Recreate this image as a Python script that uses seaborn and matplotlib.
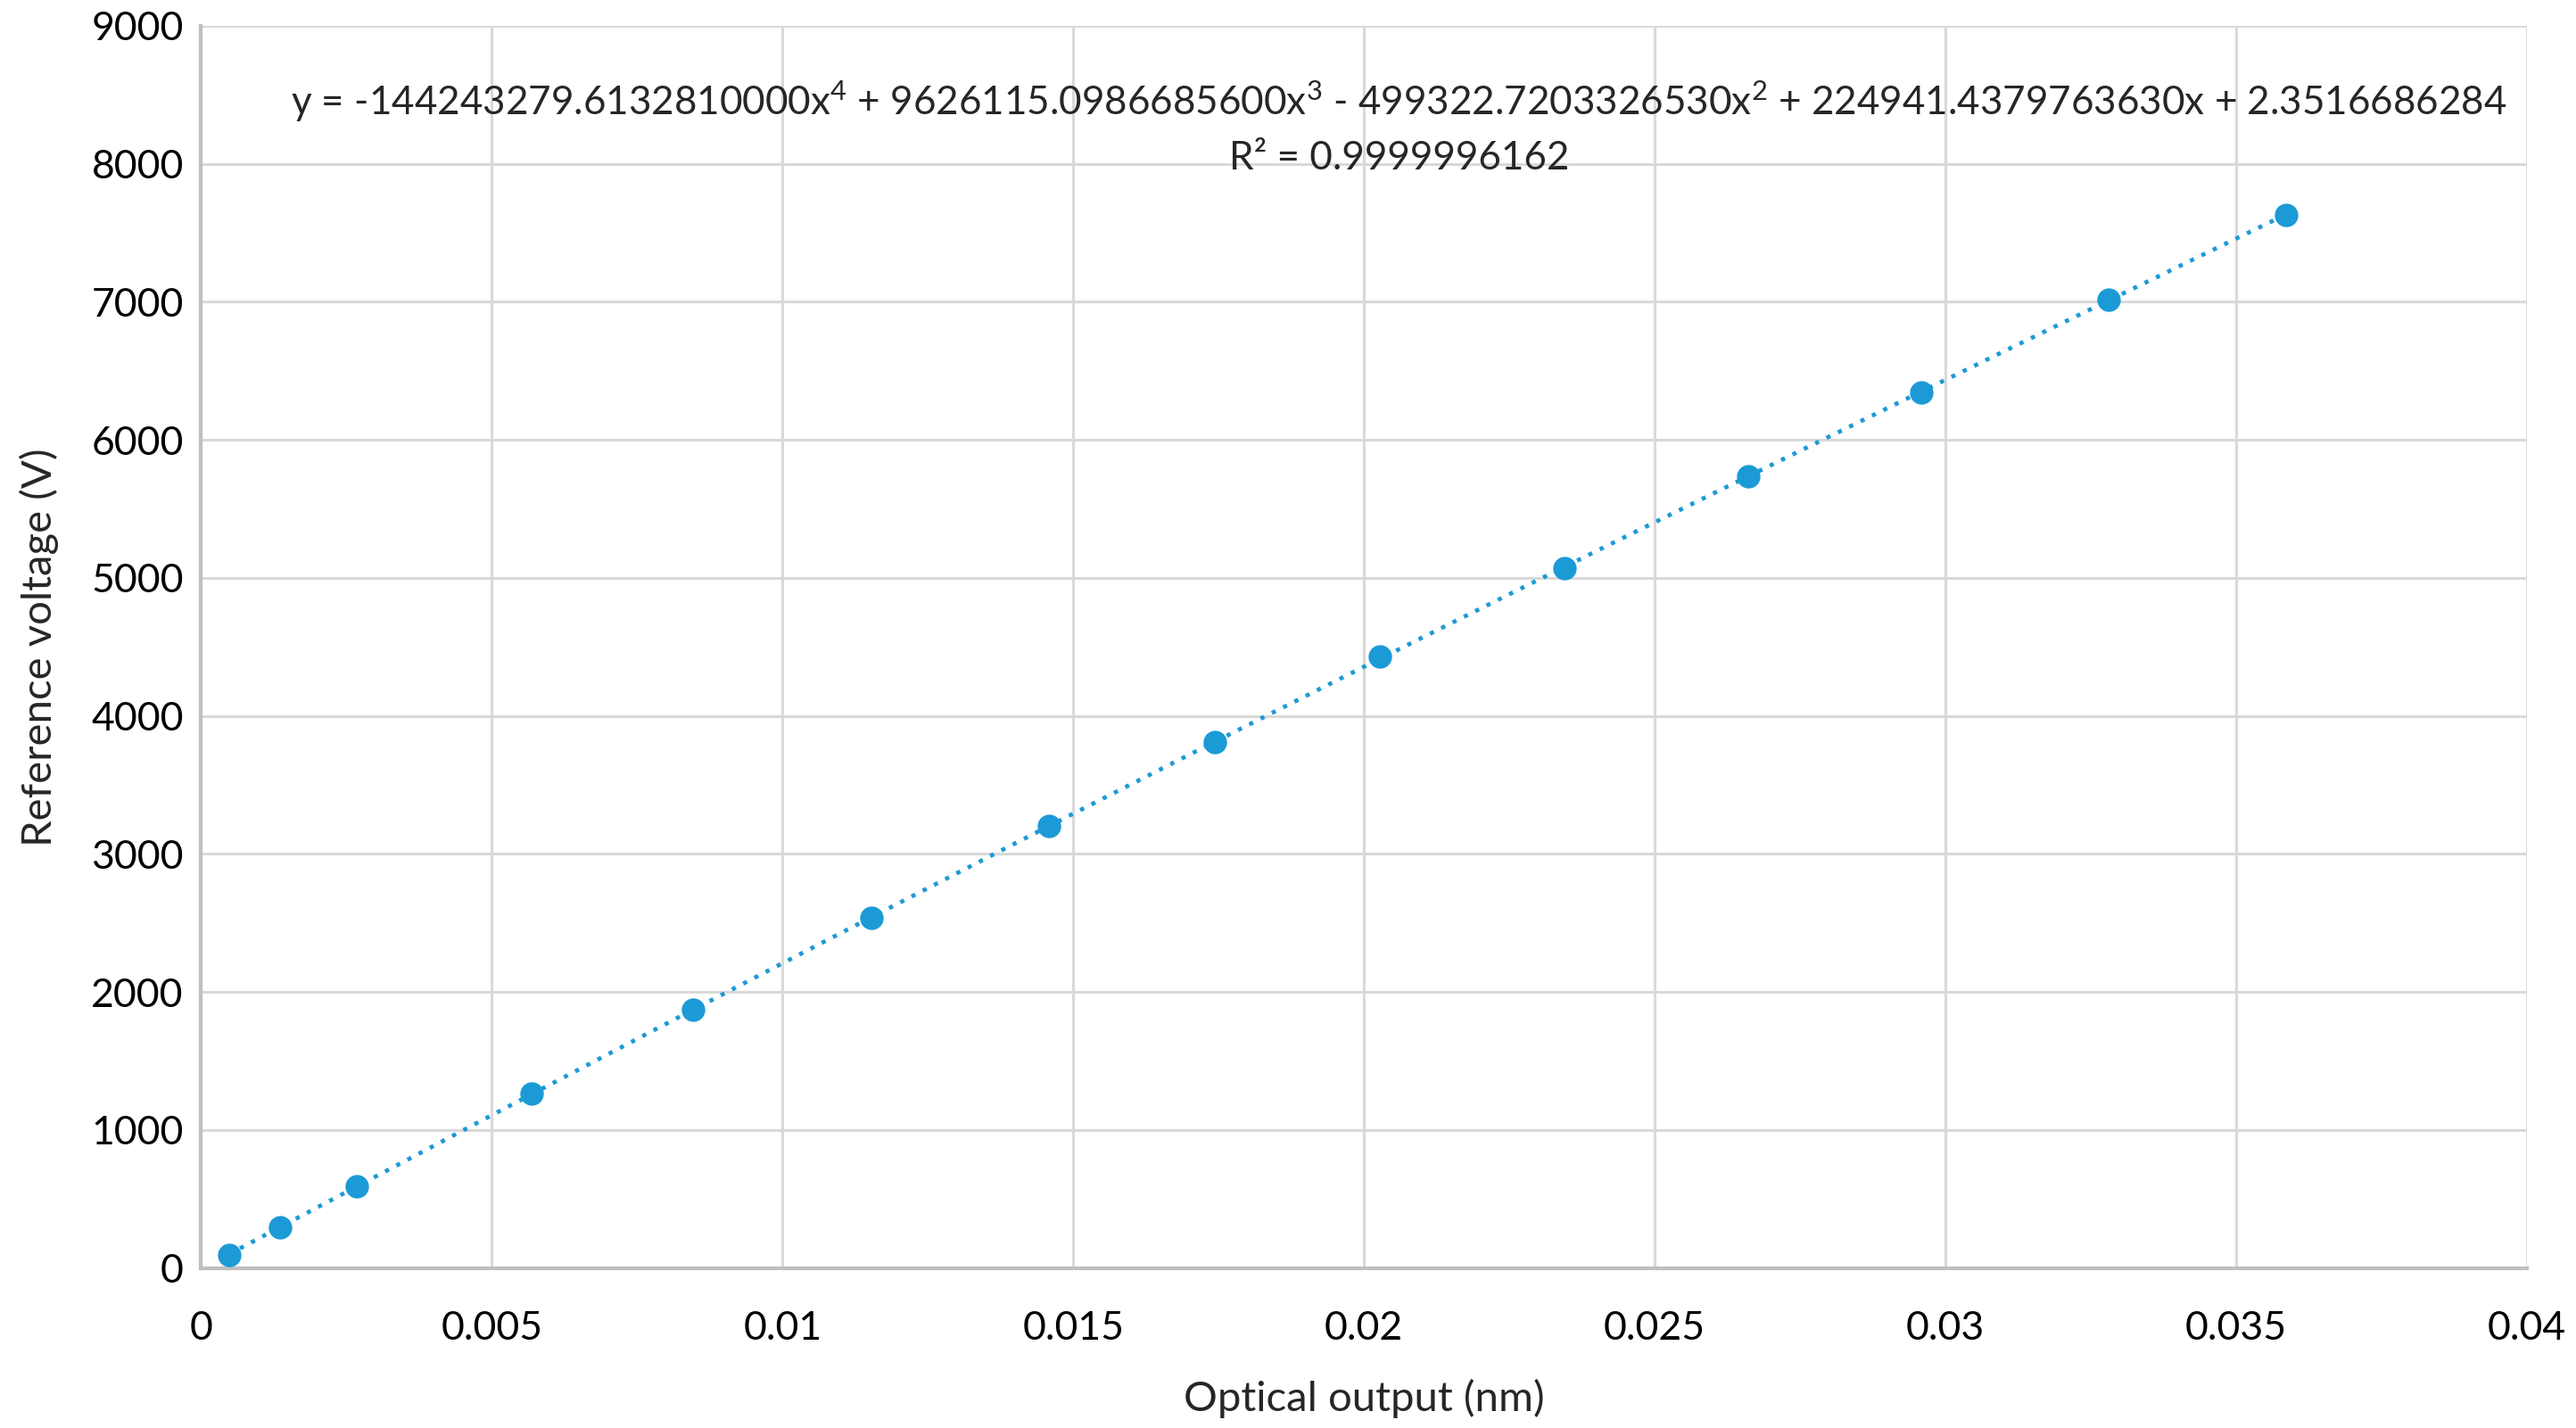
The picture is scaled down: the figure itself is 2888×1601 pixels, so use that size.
import numpy as np
import pandas as pd
import matplotlib
matplotlib.use("Agg")
import matplotlib.pyplot as plt
import seaborn as sns

# Data
optical_output = [0.00048, 0.00136, 0.00268, 0.00568, 0.00847, 0.01153, 0.01458,
                  0.01743, 0.02028, 0.02345, 0.02661, 0.02958, 0.03280, 0.03585]
reference_voltage = [95, 298, 595, 1262, 1869, 2536, 3202,
                     3810, 4429, 5071, 5738, 6345, 7012, 7631]
x_ticks = [0, 0.005, 0.01, 0.015, 0.02, 0.025, 0.03, 0.035, 0.04]
x_tick_labels = ["0", "0.005", "0.01", "0.015", "0.02", "0.025", "0.03", "0.035", "0.04"]
y_ticks = [0, 1000, 2000, 3000, 4000, 5000, 6000, 7000, 8000, 9000]
equation_text = ("y = -144243279.6132810000x$^{4}$ + 9626115.0986685600x$^{3}$ - "
                 "499322.7203326530x$^{2}$ + 224941.4379763630x + 2.3516686284")
r2_text = "R² = 0.9999996162"

df = pd.DataFrame({"x": optical_output, "y": reference_voltage})

sns.set_theme(style="white")
plt.rcParams['font.family'] = ['Lato', 'DejaVu Sans']
plt.rcParams['mathtext.fontset'] = 'custom'
plt.rcParams['mathtext.rm'] = 'Lato'
plt.rcParams['mathtext.it'] = 'Lato'
plt.rcParams['mathtext.default'] = 'regular'

color = "#1C9AD6"
fig = plt.figure(figsize=(28.88, 16.01), dpi=100)
ax = fig.add_axes([0.078, 0.112, 0.903, 0.870])

# 4th-order polynomial trendline over the data range
coef = np.polyfit(df["x"], df["y"], 4)
xs = np.linspace(df["x"].min(), df["x"].max(), 300)
trend = pd.DataFrame({"x": xs, "y": np.polyval(coef, xs)})
sns.lineplot(data=trend, x="x", y="y", ax=ax, color=color, linestyle=(0, (1, 2)),
             linewidth=3.4, zorder=2)
sns.scatterplot(data=df, x="x", y="y", ax=ax, color=color, s=360, edgecolor=color,
                linewidth=0, zorder=3)

ax.set_xlim(0, 0.04)
ax.set_ylim(0, 9000)
ax.set_xticks(x_ticks)
ax.set_xticklabels(x_tick_labels)
ax.set_yticks(y_ticks)
ax.grid(True, color="#d9d9d9", linewidth=2.2)
ax.set_axisbelow(True)
for side in ["top", "right"]:
    ax.spines[side].set_visible(False)
for side in ["left", "bottom"]:
    ax.spines[side].set_color("#bfbfbf")
    ax.spines[side].set_linewidth(3)
ax.tick_params(axis="both", length=0, labelsize=32, colors="black")
ax.tick_params(axis="x", pad=34)
ax.tick_params(axis="y", pad=14)
ax.set_xlabel("Optical output (nm)", fontsize=34, labelpad=26)
ax.set_ylabel("Reference voltage (V)", fontsize=34, labelpad=26)

ax.text(0.0206, 8452, equation_text, fontsize=31.7, ha="center", va="center")
ax.text(0.0206, 8040, r2_text, fontsize=31.7, ha="center", va="center")

fig.savefig("out.png", dpi=100)
